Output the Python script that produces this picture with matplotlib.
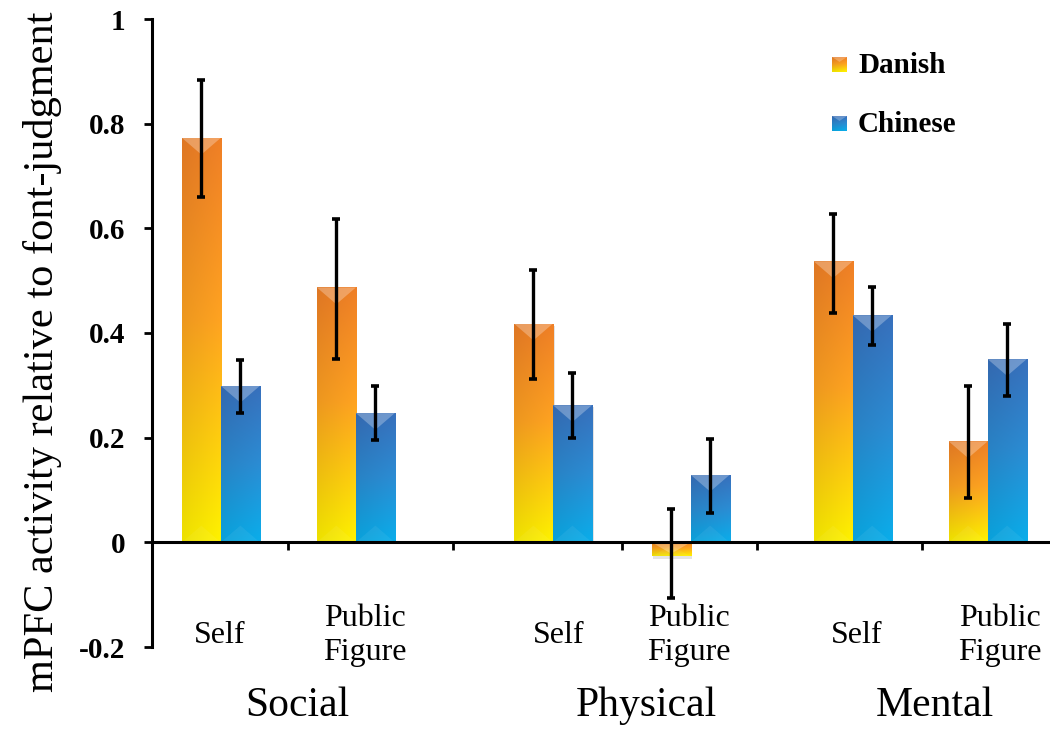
import numpy as np
import matplotlib
matplotlib.use("Agg")
import matplotlib.pyplot as plt
from matplotlib.patches import Polygon, Rectangle
from matplotlib.ticker import FuncFormatter

# ---------------- data ----------------
subcats = ["Self", "Public\nFigure", "Self", "Public\nFigure", "Self", "Public\nFigure"]
groups = ["Social", "Physical", "Mental"]
series = ["Danish", "Chinese"]
danish = [0.773, 0.487, 0.418, -0.027, 0.537, 0.193]
danish_lo = [0.659, 0.351, 0.312, -0.107, 0.439, 0.085]
danish_hi = [0.884, 0.617, 0.520, 0.063, 0.628, 0.299]
chinese = [0.299, 0.247, 0.262, 0.129, 0.434, 0.350]
chinese_lo = [0.247, 0.195, 0.199, 0.057, 0.377, 0.279]
chinese_hi = [0.348, 0.299, 0.323, 0.198, 0.487, 0.418]
yticks = [-0.2, 0, 0.2, 0.4, 0.6, 0.8, 1.0]

# ---------------- layout ----------------
W, H = 1050, 736
pos = np.array([0.51, 1.51, 2.97, 3.99, 5.19, 6.19])      # category centres
label_pos = [0.50, 1.58, 3.01, 3.98, 5.22, 6.28]
group_pos = [1.08, 3.66, 5.80]
sep_ticks = [1.01, 2.23, 3.48, 4.48, 5.70]
bw = 0.289
XMAX = (W - 152) / 135.0

serif = ["Liberation Serif", "DejaVu Serif"]

fig = plt.figure(figsize=(W / 100, H / 100), dpi=100)
ax = fig.add_axes([152 / W, (H - 647) / H, (W - 152) / W, (647 - 19) / H])
ax.set_xlim(0, XMAX)
ax.set_ylim(-0.2, 1.0)

orange_stops = [(0.0, (0.94, 0.50, 0.15)), (0.45, (1.0, 0.64, 0.13)), (1.0, (1.0, 0.95, 0.0))]
blue_stops = [(0.0, (0.22, 0.44, 0.74)), (0.5, (0.17, 0.55, 0.83)), (1.0, (0.04, 0.68, 0.92))]


def gradient(stops, n=96, m=24):
    t = np.linspace(0, 1, n)
    cols = np.zeros((n, 3))
    for c in range(3):
        cols[:, c] = np.interp(t, [s[0] for s in stops], [s[1][c] for s in stops])
    shade = 0.93 + 0.07 * np.linspace(0, 1, m)  # slightly darker on the left
    img = cols[:, None, :] * shade[None, :, None]
    return np.clip(img, 0, 1)


def draw_bars(xs, vals, stops):
    bars = ax.bar(xs, vals, width=bw, color="none", edgecolor="none", zorder=3)
    img = gradient(stops)
    for b, v in zip(bars, vals):
        x0, w = b.get_x(), b.get_width()
        y0, h = b.get_y(), b.get_height()
        top, bot = max(y0, y0 + h), min(y0, y0 + h)
        # soft shadow
        ax.add_patch(Rectangle((x0 + 0.012, bot - 0.004), w, top - bot, color="#b0b0b0",
                               alpha=0.35, lw=0, zorder=2))
        im = ax.imshow(img, extent=(x0, x0 + w, bot, top), aspect="auto",
                       origin="upper", zorder=3, interpolation="bilinear")
        im.set_clip_path(b)
        d = min(0.02, (top - bot) / 2)
        xc = x0 + w / 2
        ax.add_patch(Polygon([(x0, top), (x0 + w, top), (xc, top - d * 1.6)], closed=True,
                             color="white", alpha=0.28, lw=0, zorder=4))
        ax.add_patch(Polygon([(x0, bot), (x0 + w, bot), (xc, bot + d * 1.6)], closed=True,
                             color="white", alpha=0.06, lw=0, zorder=4))
    return bars


draw_bars(pos - bw / 2, danish, orange_stops)
draw_bars(pos + bw / 2, chinese, blue_stops)

ekw = dict(fmt="none", ecolor="black", elinewidth=2.4, capsize=3, capthick=2.6, zorder=6)
d = np.array(danish)
c = np.array(chinese)
ax.errorbar(pos - bw / 2, d, yerr=[d - np.array(danish_lo), np.array(danish_hi) - d], **ekw)
ax.errorbar(pos + bw / 2, c, yerr=[c - np.array(chinese_lo), np.array(chinese_hi) - c], **ekw)

# axes styling
for s in ["top", "right"]:
    ax.spines[s].set_visible(False)
ax.spines["bottom"].set_position(("data", 0))
ax.spines["bottom"].set_linewidth(2.2)
ax.spines["left"].set_linewidth(2.2)
ax.spines["bottom"].set_zorder(7)
ax.set_xticks(sep_ticks)
ax.set_xticklabels([])
ax.tick_params(axis="x", direction="out", length=6, width=2, colors="black")
ax.set_yticks(yticks)
ax.yaxis.set_major_formatter(FuncFormatter(lambda v, p: "0" if abs(v) < 1e-9 else ("1" if abs(v - 1) < 1e-9 else f"{v:.1f}")))
ax.tick_params(axis="y", direction="out", length=6, width=2, pad=13)
for t in ax.get_yticklabels():
    t.set_fontfamily(serif)
    t.set_fontweight("bold")
    t.set_fontsize(21)

# category labels
for x, lab in zip(label_pos, subcats):
    ax.text(x, -0.178, lab, ha="center", va="center", fontsize=23, family=serif,
            linespacing=1.2, clip_on=False)
for x, g in zip(group_pos, groups):
    ax.text(x, -0.312, g, ha="center", va="center", fontsize=30, family=serif, clip_on=False)

# y label
fig.text(43 / W, 1 - 352 / H, "mPFC activity relative to font-judgment", rotation=90,
         ha="center", va="center", fontsize=30.5, family=serif)

# legend (manual)
for (ly, name, stops) in [(64.5, series[0], orange_stops), (123.5, series[1], blue_stops)]:
    sq = fig.add_axes([832 / W, 1 - (ly + 7.5) / H, 15 / W, 15 / H])
    sq.imshow(gradient(stops, 32, 8), aspect="auto", interpolation="bilinear")
    sq.add_patch(Polygon([(-0.5, -0.5), (7.5, -0.5), (3.5, 10)], closed=True, color="white",
                         alpha=0.25, lw=0))
    sq.axis("off")
    fig.text(858 / W, 1 - (ly + 1) / H, name, ha="left", va="center", fontsize=21,
             fontweight="bold", family=serif)

fig.savefig("out.png", dpi=100)
